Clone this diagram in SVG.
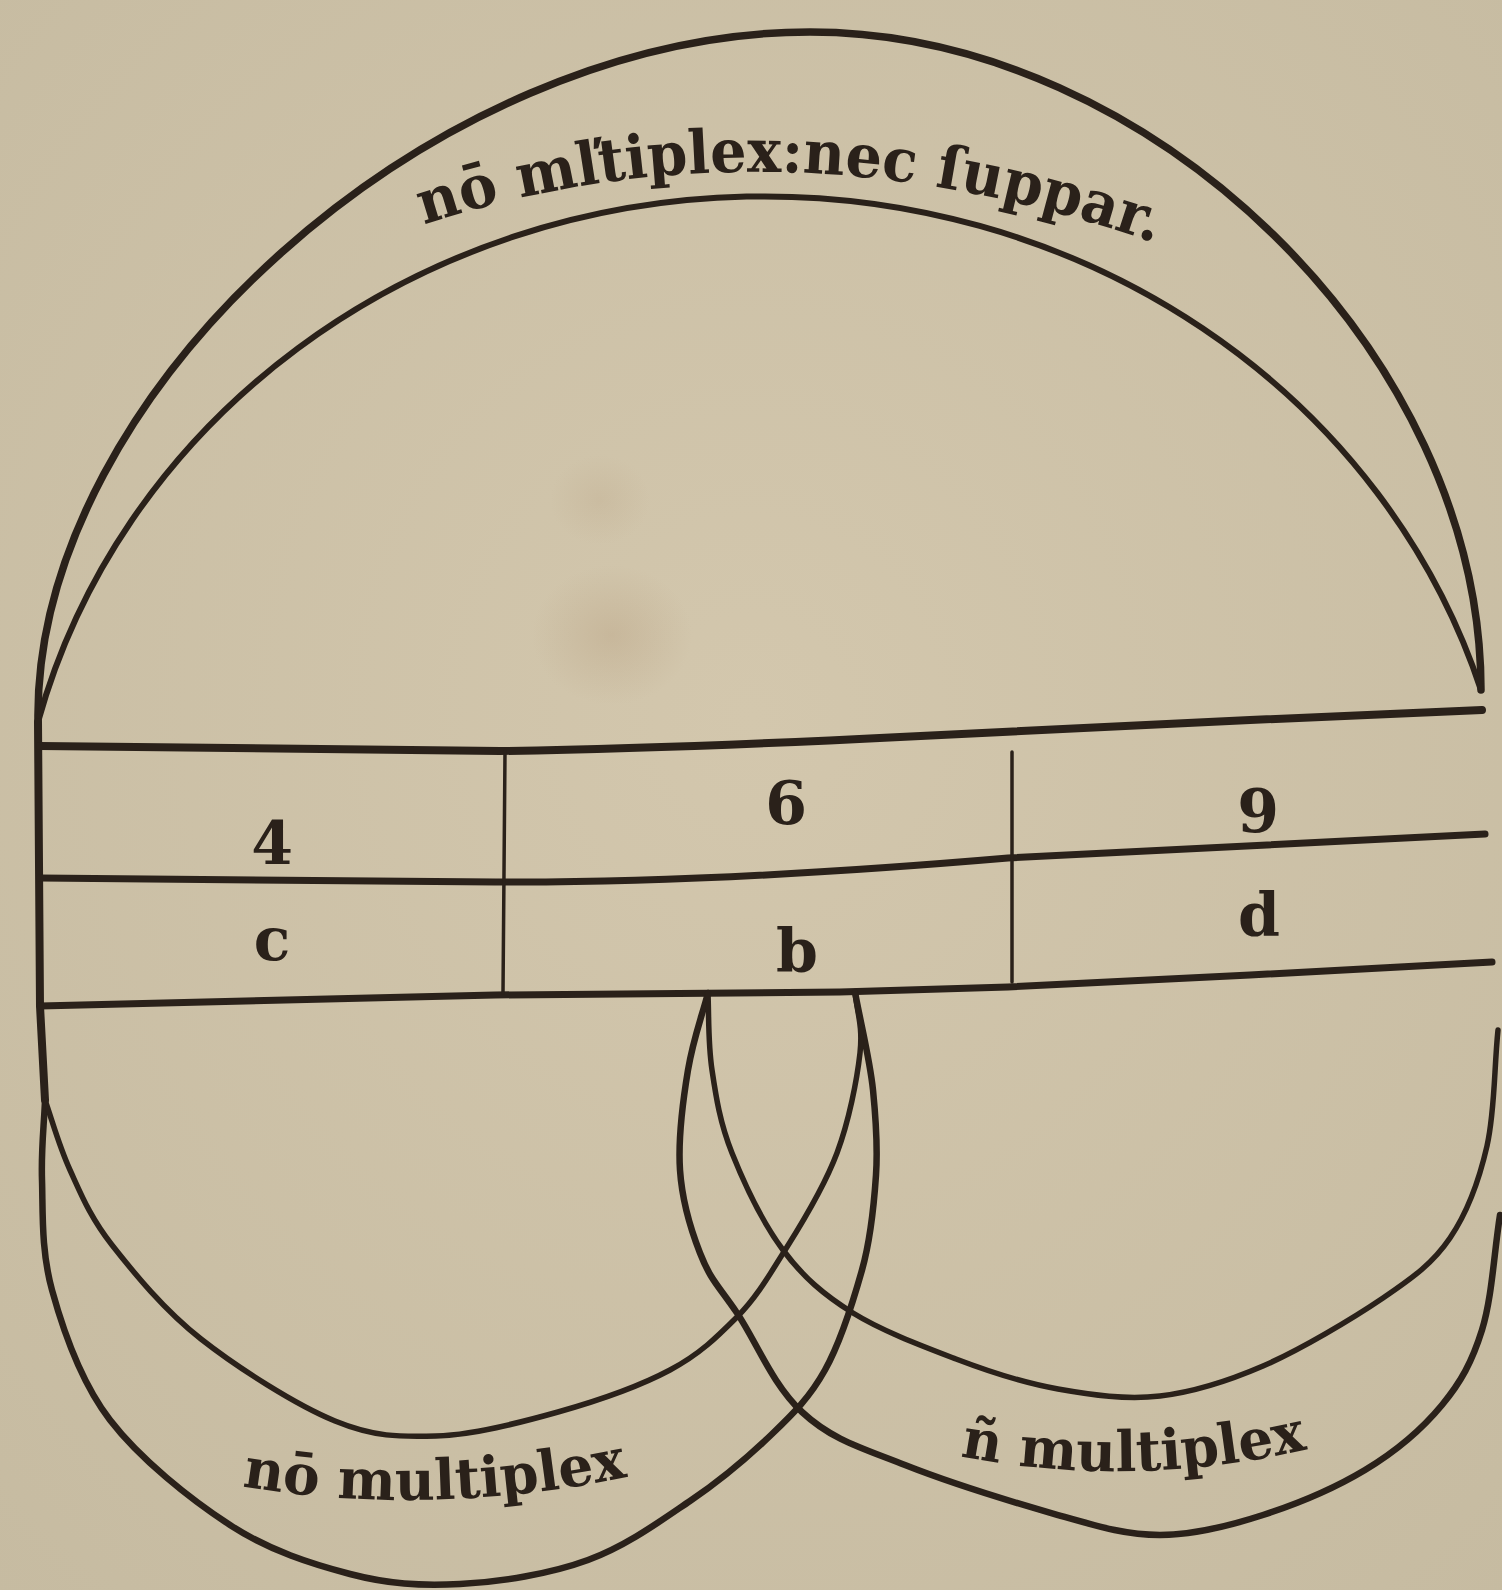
<svg xmlns="http://www.w3.org/2000/svg" width="1502" height="1590" viewBox="0 0 1502 1590">
<defs>
<radialGradient id="paper" cx="0.5" cy="0.45" r="0.75">
<stop offset="0" stop-color="#d3c7ad"/>
<stop offset="1" stop-color="#c6bba1"/>
</radialGradient>
<radialGradient id="stain" cx="0.5" cy="0.5" r="0.5">
<stop offset="0" stop-color="#b9a283" stop-opacity="0.4"/>
<stop offset="1" stop-color="#b9a283" stop-opacity="0"/>
</radialGradient>
<style>
.ink{fill:none;stroke:#2a211a;stroke-linecap:round;stroke-linejoin:round}
.band{stroke-width:8}
.arc{stroke-width:6.5}
.thin{stroke-width:3.5}
.lbl{fill:#2a211a;font-family:"DejaVu Serif Condensed","DejaVu Serif","Liberation Serif",serif;font-weight:bold}
.num{fill:#2a211a;font-family:"DejaVu Serif","Liberation Serif",serif;font-weight:bold;font-size:60px;text-anchor:middle}
</style>
<path id="tp-top" d="M420,226 Q770,110 1152,242"/>
<path id="tp-left" d="M240,1486 Q430,1518 632,1476"/>
<path id="tp-right" d="M958,1456 Q1135,1490 1312,1448"/>
</defs>
<rect width="1502" height="1590" fill="url(#paper)"/>
<ellipse cx="612" cy="635" rx="80" ry="70" fill="url(#stain)"/>
<ellipse cx="600" cy="500" rx="50" ry="45" fill="url(#stain)" opacity="0.6"/>

<g id="connectors">
<g id="top-band">
<path class="ink arc" style="stroke-width:7.5" d="M38,722 C33,391 434,32 810,32 C1152,32 1481,354 1481,690"/>
<path class="ink arc" style="stroke-width:6" d="M38,722 A750,700 0 0 1 1481,690"/>
</g>
<g id="table">
<path class="ink band" d="M38,722 L40,1006 L45,1100"/>
<path class="ink band" d="M40,746 L500,751 C640,749 760,744 900,737 L1250,720 L1482,710"/>
<path class="ink band" style="stroke-width:7" d="M40,878 L495,882 C650,883 820,874 1008,858 L1485,834"/>
<path class="ink band" style="stroke-width:7" d="M40,1006 L495,995 L840,992 L1008,987 L1250,975 L1492,962"/>
<path class="ink thin" d="M505,752 L503,993"/>
<path class="ink thin" d="M1012,752 L1012,982"/>
</g>
<g id="crescent-left">
<path class="ink arc" d="M855,992 C861,1025 870,1060 873,1090 S878,1145 876,1175 S871,1238 862,1270 S840,1343 825,1370 S794,1413 771,1435 S721,1480 690,1501 S626,1546 588,1560 S500,1582 460,1584 S388,1584 350,1574 S270,1551 230,1525 S140,1459 110,1420 S63,1330 52,1290 S43,1212 42,1180 S44,1127 45,1100"/>
<path class="ink arc" style="stroke-width:5.5" d="M855,992 C857,1012 863,1026 860,1053 S849,1121 837,1153 S804,1220 787,1247 S757,1297 737,1317 S700,1354 670,1370 S597,1401 558,1412 S473,1435 436,1436 S374,1437 335,1421 S238,1368 201,1339 S134,1273 112,1245 S81,1194 70,1170 S53,1123 45,1100"/>
</g>
<g id="crescent-right">
<path class="ink arc" d="M708,993 C701,1019 693,1040 688,1070 S678,1140 680,1170 S689,1225 700,1253 S718,1285 737,1313 S772,1384 802,1412 S862,1448 905,1465 S1016,1503 1058,1515 S1126,1535 1160,1535 S1229,1526 1263,1515 S1335,1488 1365,1470 S1423,1428 1442,1405 S1472,1362 1482,1330 S1494,1253 1500,1215"/>
<path class="ink arc" style="stroke-width:5.5" d="M708,993 C709,1019 708,1043 712,1070 S720,1123 732,1153 S763,1223 783,1250 S824,1295 853,1313 S922,1346 956,1359 S1024,1383 1058,1389 S1126,1400 1160,1396 S1226,1382 1263,1366 S1352,1319 1383,1298 S1433,1263 1450,1238 S1479,1181 1487,1146 S1494,1069 1498,1030"/>
</g>
</g>

<g id="label-top">
<text class="lbl" font-size="60"><textPath href="#tp-top" startOffset="4" textLength="745" lengthAdjust="spacingAndGlyphs">nō mľtiplex:nec ſuppar.</textPath></text>
</g>
<g id="label-bottom-left">
<text class="lbl" font-size="56"><textPath href="#tp-left" startOffset="2" textLength="388" lengthAdjust="spacingAndGlyphs">nō multiplex</textPath></text>
</g>
<g id="label-bottom-right">
<text class="lbl" font-size="56"><textPath href="#tp-right" startOffset="2" textLength="350" lengthAdjust="spacingAndGlyphs">ñ multiplex</textPath></text>
</g>

<g id="cell-4"><text class="num" x="272" y="864">4</text></g>
<g id="cell-6"><text class="num" x="786" y="824">6</text></g>
<g id="cell-9"><text class="num" x="1258" y="832">9</text></g>
<g id="cell-c"><text class="num" x="272" y="960">c</text></g>
<g id="cell-b"><text class="num" x="797" y="972">b</text></g>
<g id="cell-d"><text class="num" x="1259" y="936">d</text></g>
</svg>
